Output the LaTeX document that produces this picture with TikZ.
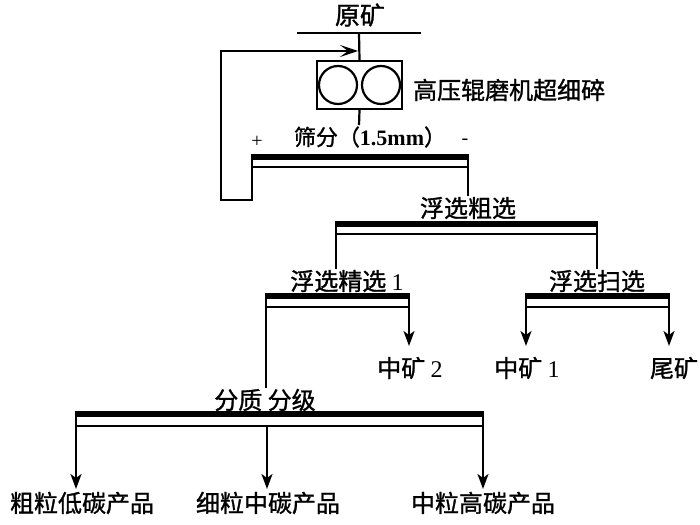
\documentclass[tikz,border=0pt]{standalone}
\usepackage{fontspec}
\setmainfont{Liberation Serif}
\newfontfamily\cjk[FakeBold=1.2]{Noto Sans CJK SC}
\usetikzlibrary{arrows.meta}
\newcommand\drawsieve[5]{% name, x1, x2, ytop, ybottom
  \fill (#2-1,#4) rectangle (#3+1,#4+6);
  \draw (#2,#4+5) rectangle (#3,#5);
  \coordinate (#1L) at (#2,#5);
  \coordinate (#1R) at (#3,#5);
}
\begin{document}
\begin{tikzpicture}[x=1pt,y=-1pt,line width=2.2pt,
  lbl/.style={inner sep=0pt,font=\fontsize{24}{24}\selectfont\cjk},
  sign/.style={inner sep=0pt,font=\fontsize{20}{20}\selectfont},
  arr/.style={-{Stealth[length=15pt,width=11pt,inset=4pt]}},
  backarr/.style={-{Stealth[length=18pt,width=12pt,inset=8pt]}}]
\useasboundingbox (0,0) rectangle (700,524);
% feed
\node[lbl,font=\fontsize{25}{25}\selectfont\cjk] (ore) at (360,15) {原矿};
\coordinate (feedL) at (297,33);
\coordinate (feedR) at (421,33);
\coordinate (feedM) at (359,33);
\draw (feedL) -- (feedR);
% HPGR
\node[draw,minimum width=85pt,minimum height=48pt,inner sep=0pt] (hpgr) at (359.5,85) {};
\draw (338,85) circle (19);
\draw (381,85) circle (19);
\node[lbl,anchor=west] (hpgrlbl) at (412,90) {高压辊磨机超细碎};
\draw (feedM) -- (hpgr.north);
\coordinate (hpgrout) at (359,125);
\draw (hpgr.south) -- (hpgrout);
% screen
\node[lbl,font=\fontsize{22}{22}\selectfont] (scr) at (370,137) {{\cjk 筛分（}\textbf{1.5mm}{\cjk ）}};
\node[sign] (plus) at (257,142) {+};
\node[sign] (minus) at (465,142) {-};
\drawsieve{s}{252}{468}{154}{167}
\coordinate (ret1) at (252,200);
\coordinate (ret2) at (221,200);
\coordinate (ret3) at (221,51);
\coordinate (ret4) at (358,51);
\draw[backarr] (sL) -- (ret1) -- (ret2) -- (ret3) -- (ret4);
% rougher
\node[lbl] (rough) at (468,208) {浮选粗选};
\draw (sR) -- (rough.north);
\drawsieve{r}{336}{597}{221}{234}
\node[lbl] (clean) at (347,281) {浮选精选 {\rmfamily 1}};
\node[lbl] (scav) at (597,281) {浮选扫选};
\draw (rL) -- (rL |- clean.north);
\draw (rR) -- (scav.north);
% cleaner
\drawsieve{c}{266}{409}{293}{307}
\node[lbl] (mid2) at (410,368) {中矿 {\rmfamily 2}};
\draw[arr] (cR) -- (cR |- 0,346);
% scavenger
\drawsieve{v}{526}{669}{293}{307}
\node[lbl] (mid1) at (527,368) {中矿 {\rmfamily 1}};
\node[lbl] (tail) at (674,368) {尾矿};
\draw[arr] (vL) -- (vL |- 0,346);
\draw[arr] (vR) -- (vR |- 0,346);
% classification
\node[lbl] (cls) at (265,400) {分质 分级};
\draw (cL) -- (cL |- cls.north);
\drawsieve{k}{76}{483}{411}{426}
\coordinate (kM) at (267,426);
\node[lbl] (p1) at (82,503) {粗粒低碳产品};
\node[lbl] (p2) at (268,503) {细粒中碳产品};
\node[lbl] (p3) at (483,503) {中粒高碳产品};
\draw[arr] (kL) -- (kL |- 0,489);
\draw[arr] (kM) -- (kM |- 0,489);
\draw[arr] (kR) -- (kR |- 0,489);
\end{tikzpicture}
\end{document}
